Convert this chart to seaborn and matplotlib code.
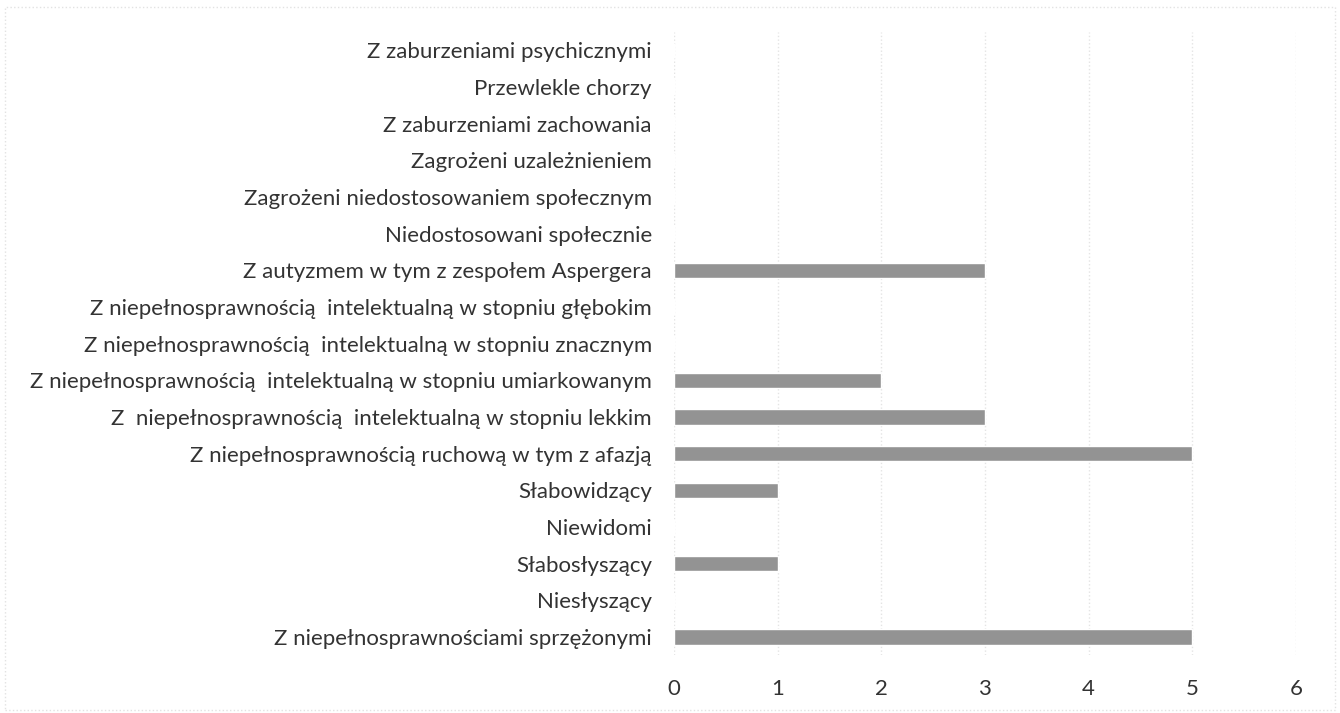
import matplotlib
matplotlib.use("Agg")
import matplotlib.pyplot as plt
import seaborn as sns
import pandas as pd

# Data (top to bottom as shown)
categories = [
    "Z zaburzeniami psychicznymi",
    "Przewlekle chorzy",
    "Z zaburzeniami zachowania",
    "Zagrożeni uzależnieniem",
    "Zagrożeni niedostosowaniem społecznym",
    "Niedostosowani społecznie",
    "Z autyzmem w tym z zespołem Aspergera",
    "Z niepełnosprawnością  intelektualną w stopniu głębokim",
    "Z niepełnosprawnością  intelektualną w stopniu znacznym",
    "Z niepełnosprawnością  intelektualną w stopniu umiarkowanym",
    "Z  niepełnosprawnością  intelektualną w stopniu lekkim",
    "Z niepełnosprawnością ruchową w tym z afazją",
    "Słabowidzący",
    "Niewidomi",
    "Słabosłyszący",
    "Niesłyszący",
    "Z niepełnosprawnościami sprzężonymi",
]
values = [0, 0, 0, 0, 0, 0, 3, 0, 0, 2, 3, 5, 1, 0, 1, 0, 5]
x_ticks = [0, 1, 2, 3, 4, 5, 6]

df = pd.DataFrame({"kategoria": categories, "liczba": values})

sns.set_style("white")
plt.rcParams["font.family"] = ["Lato", "DejaVu Sans"]

fig = plt.figure(figsize=(13.4, 7.13), dpi=100)
ax = fig.add_axes([0.503, 0.081, 0.464, 0.874])

sns.barplot(data=df, y="kategoria", x="liczba", orient="h", color="#939393",
            width=0.42, saturation=1, ax=ax, zorder=3)

ax.set_xlim(0, 6)
ax.set_xticks(x_ticks)
ax.xaxis.grid(True, color="#e4e4e4", linestyle=":", linewidth=1, zorder=0)
for s in ax.spines.values():
    s.set_visible(False)
ax.set_xlabel("")
ax.set_ylabel("")
ax.tick_params(axis="y", length=0, pad=16, labelsize=16, labelcolor="#333333")
ax.tick_params(axis="x", length=0, pad=17, labelsize=16, labelcolor="#333333")

# faint frame of the scanned chart area
fig.patches.append(plt.Rectangle((0.004, 0.004), 0.992, 0.986, transform=fig.transFigure,
                                 fill=False, edgecolor="#e2e2e2", linestyle=":", linewidth=1))

fig.savefig("out.png", dpi=100)
